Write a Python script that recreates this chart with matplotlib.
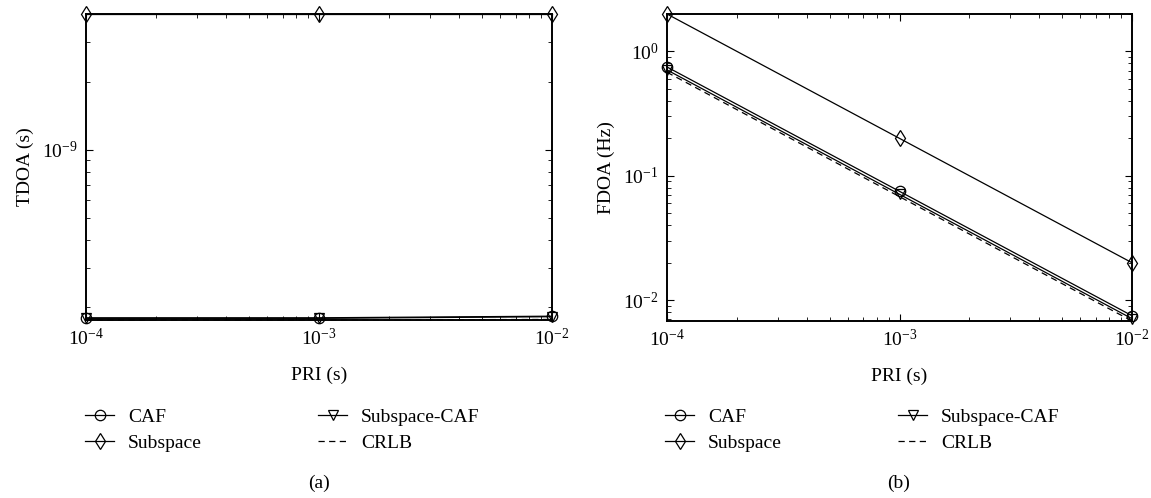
import numpy as np
import matplotlib
matplotlib.use('Agg')
import matplotlib.pyplot as plt
from matplotlib.ticker import NullFormatter, LogLocator

plt.rcParams['font.family'] = ['Liberation Serif', 'DejaVu Serif']
plt.rcParams['mathtext.fontset'] = 'custom'
plt.rcParams['mathtext.rm'] = 'Liberation Serif'
plt.rcParams['mathtext.it'] = 'Liberation Serif:italic'
plt.rcParams['font.size'] = 14

# PRI values (s)
pri = [1e-4, 1e-3, 1e-2]

# (a) TDOA (s)
tdoa_caf = [1.80e-10, 1.80e-10, 1.83e-10]
tdoa_subspace = [4.0e-9, 4.0e-9, 4.0e-9]
tdoa_subcaf = [1.79e-10, 1.79e-10, 1.82e-10]
tdoa_crlb = [1.76e-10, 1.76e-10, 1.77e-10]

# (b) FDOA (Hz)
fdoa_caf = [0.75, 0.075, 0.0075]
fdoa_subspace = [2.0, 0.20, 0.020]
fdoa_subcaf = [0.71, 0.071, 0.0071]
fdoa_crlb = [0.68, 0.068, 0.0068]

labels = ['CAF', 'Subspace', 'Subspace-CAF', 'CRLB']

W, H = 1151, 498
fig = plt.figure(figsize=(W / 100, H / 100), dpi=100)

def px_axes(x0, x1, ytop, ybot):
    return fig.add_axes([x0 / W, 1 - ybot / H, (x1 - x0) / W, (ybot - ytop) / H])

ax_a = px_axes(86, 552, 14, 320)
ax_b = px_axes(667, 1132, 14, 321)

def draw(ax, caf, sub, subcaf, crlb, ylabel):
    kw = dict(color='black', lw=0.9, mfc='none', mec='black', clip_on=False, zorder=3)
    ax.plot(pri, caf, marker='o', ms=7.5, mew=0.9, label=labels[0], **kw)
    ax.plot(pri, sub, marker='d', ms=8.5, mew=0.9, label=labels[1], **kw)
    ax.plot(pri, subcaf, marker='v', ms=7, mew=0.9, label=labels[2], **kw)
    ax.plot(pri, crlb, ls=(0, (5, 3.5)), color='black', lw=0.9, label=labels[3], clip_on=False)
    ax.set_xscale('log')
    ax.set_yscale('log')
    ax.set_xlim(pri[0], pri[-1])
    allv = np.concatenate([caf, sub, subcaf, crlb])
    ax.set_ylim(allv.min(), allv.max())
    ax.yaxis.set_minor_formatter(NullFormatter())
    ax.xaxis.set_minor_formatter(NullFormatter())
    ax.yaxis.set_minor_locator(LogLocator(base=10, subs=np.arange(2, 10)))
    ax.tick_params(which='both', direction='in', top=True, right=True, labelsize=14)
    ax.tick_params(which='major', length=5, width=0.8, pad=6)
    ax.tick_params(which='minor', length=3, width=0.6)
    for s in ax.spines.values():
        s.set_linewidth(1.4)
    ax.set_xlabel('PRI (s)', labelpad=12)
    ax.set_ylabel(ylabel, labelpad=6)

draw(ax_a, tdoa_caf, tdoa_subspace, tdoa_subcaf, tdoa_crlb, 'TDOA (s)')
draw(ax_b, fdoa_caf, fdoa_subspace, fdoa_subcaf, fdoa_crlb, 'FDOA (Hz)')

for ax, x0, tag, xc in [(ax_a, 85, '(a)', 319), (ax_b, 665, '(b)', 899)]:
    h, l = ax.get_legend_handles_labels()
    fig.legend(h, l, loc='upper left', bbox_to_anchor=(x0 / W, 1 - 408 / H),
               bbox_transform=fig.transFigure, ncol=2, frameon=False,
               borderpad=0, borderaxespad=0, handlelength=1.5, handletextpad=0.7,
               columnspacing=6.0, labelspacing=0.45, fontsize=14, numpoints=1)
    fig.text(xc / W, 1 - 483 / H, tag, ha='center', va='center', fontsize=14)

fig.savefig('out.png', dpi=100)
